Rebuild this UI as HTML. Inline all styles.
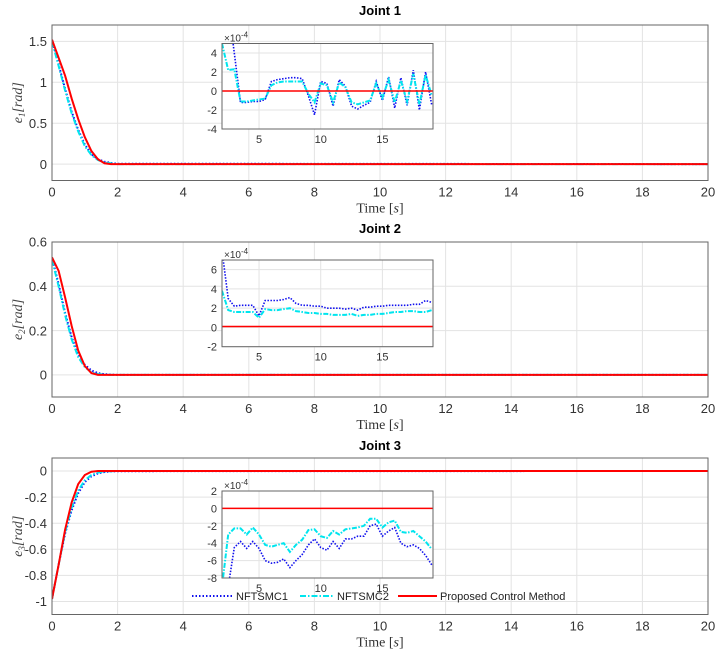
<!DOCTYPE html>
<html><head><meta charset="utf-8">
<style>
html,body{margin:0;padding:0;background:#fff;}
svg{display:block;font-family:"Liberation Sans",sans-serif;}
</style></head>
<body>
<svg id="chart" width="720" height="655" viewBox="0 0 720 655" xmlns="http://www.w3.org/2000/svg"></svg>
<script>
// ---- main panel data (time grid and errors) ----
const mainT = [0,0.2,0.4,0.6,0.8,1.0,1.2,1.4,1.6,1.8,2,20];
const j1Blue = [1.52,1.22,0.92,0.64,0.42,0.24,0.12,0.06,0.03,0.015,0.005,0];
const j1Cyan = [1.50,1.20,0.90,0.62,0.40,0.22,0.11,0.05,0.02,0.01,0,0];
const j1Red  = [1.52,1.30,1.08,0.80,0.55,0.33,0.16,0.06,0.01,0,0,0];
const j2Blue = [0.53,0.41,0.28,0.17,0.09,0.045,0.02,0.008,0.003,0.001,0,0];
const j2Cyan = [0.52,0.40,0.27,0.16,0.08,0.035,0.012,0.004,0.001,0,0,0];
const j2Red  = [0.53,0.47,0.35,0.22,0.11,0.04,0.008,0,0,0,0,0];
const j3Blue = [-0.98,-0.72,-0.48,-0.30,-0.17,-0.085,-0.04,-0.018,-0.007,-0.003,-0.001,0];
const j3Cyan = [-0.98,-0.72,-0.47,-0.28,-0.15,-0.07,-0.03,-0.012,-0.004,-0.001,0,0];
const j3Red  = [-0.98,-0.72,-0.45,-0.24,-0.10,-0.03,-0.005,0,0,0,0,0];
const mainXTicks = [0,2,4,6,8,10,12,14,16,18,20];
const j1YTicks = [0,0.5,1,1.5];
const j2YTicks = [0,0.2,0.4,0.6];
const j3YTicks = [-1,-0.8,-0.6,-0.4,-0.2,0];
// ---- inset data (units of 1e-4) ----
const insetT = [2,2.5,3,3.5,4,4.5,5,5.5,6,6.5,7,7.5,8,8.5,9,9.5,10,10.5,11,11.5,12,12.5,13,13.5,14,14.5,15,15.5,16,16.5,17,17.5,18,18.5,19];
const in1Blue = [9,9,4,-1.2,-1.2,-1.1,-1.1,-0.9,1.0,1.2,1.3,1.4,1.4,1.3,-0.5,-2.5,1.0,0.8,-1.6,1.2,0.5,-1.6,-1.9,-1.5,-1.2,1.0,-1.0,1.5,-1.8,1.4,-1.5,2.2,-2.0,2.0,-1.5];
const in1Cyan = [5,2.2,2.3,-1.1,-1.1,-1.0,-0.9,-0.8,0.6,0.9,1.0,1.0,1.0,1.0,-0.3,-1.2,0.8,0.6,-1.2,0.9,0.4,-1.2,-1.4,-1.2,-1.0,0.8,-0.7,1.2,-1.2,1.1,-1.1,1.8,-1.4,1.7,-0.5];
const in2Blue = [8,3,2.2,2.3,2.3,2.3,1.2,2.8,2.8,2.8,2.9,3.1,2.5,2.3,2.3,2.2,2.2,2.0,2.0,2.0,1.9,2.0,1.8,2.1,2.1,2.2,2.2,2.3,2.3,2.3,2.3,2.4,2.4,2.8,2.6];
const in2Cyan = [3.8,1.8,1.6,1.6,1.6,1.6,1.0,1.9,1.8,1.8,1.9,2.0,1.7,1.6,1.5,1.5,1.4,1.4,1.3,1.3,1.3,1.4,1.2,1.3,1.3,1.4,1.4,1.5,1.6,1.6,1.7,1.7,1.6,1.6,1.8];
const in3Blue = [-9,-9,-4.5,-3.8,-4.6,-3.8,-4.6,-6.0,-6.3,-6.2,-5.8,-6.8,-6.0,-5.3,-4.2,-3.5,-4.5,-4.8,-3.8,-4.6,-3.5,-3.5,-3.2,-3.2,-2.0,-1.8,-3.2,-2.6,-2.2,-4.0,-4.4,-4.2,-4.6,-5.4,-6.5];
const in3Cyan = [-9,-3,-2.3,-2.3,-3.0,-2.2,-3.0,-4.2,-4.4,-4.2,-4.0,-5.0,-4.2,-3.6,-2.5,-2.4,-3.2,-3.4,-2.6,-3.0,-2.4,-2.3,-2.2,-2.0,-1.2,-1.2,-2.2,-1.6,-1.4,-2.7,-2.8,-2.6,-3.2,-3.8,-4.7];
const in1Red = 0, in2Red = 0.1, in3Red = 0;
const insetXTicks = [5,10,15];
const in1YTicks = [-4,-2,0,2,4];
const in2YTicks = [-2,0,2,4,6];
const in3YTicks = [-8,-6,-4,-2,0,2];

const NS = "http://www.w3.org/2000/svg";
const svg = document.getElementById('chart');
let clipId = 0;
function el(tag, attrs, parent){
  const e = document.createElementNS(NS, tag);
  for (const k in attrs) e.setAttribute(k, attrs[k]);
  (parent||svg).appendChild(e);
  return e;
}
function scale(d0,d1,p0,p1){ return v => p0 + (v-d0)/(d1-d0)*(p1-p0); }
function pathD(xs, ys, sx, sy){
  return xs.map((t,i)=>(i?'L':'M')+sx(t).toFixed(1)+','+sy(ys[i]).toFixed(1)).join(' ');
}
const BLUE='#1010ee', CYAN='#00e5ee', RED='#ff0000', AX='#666', GRID='#e3e3e3';

function drawAxes(o){
  const g = el('g', {});
  
  
  const sx = scale(o.xd[0],o.xd[1],o.x0,o.x1), sy = scale(o.yd[0],o.yd[1],o.y1,o.y0);
  el('rect',{x:o.x0,y:o.y0,width:o.x1-o.x0,height:o.y1-o.y0,fill:'#fff'},g);
  o.xt.forEach(v=>{
    const l = el('line',{x1:sx(v),x2:sx(v),y1:o.y0,y2:o.y1,stroke:GRID,'stroke-width':1},g);
    
    
    const t = el('text',{x:sx(v),y:o.y1+o.fs+3,'font-size':o.fs,'text-anchor':'middle',fill:'#333'},g);
    
    
    t.textContent = v;
  });
  o.yt.forEach(v=>{
    const l = el('line',{x1:o.x0,x2:o.x1,y1:sy(v),y2:sy(v),stroke:GRID,'stroke-width':1},g);
    
    
    const t = el('text',{x:o.x0-5,y:sy(v)+o.fs*0.36,'font-size':o.fs,'text-anchor':'end',fill:'#333'},g);
    
    
    t.textContent = v;
  });
  const cid = 'clip'+(clipId++);
  const cp = el('clipPath',{id:cid},g);
  el('rect',{x:o.x0,y:o.y0,width:o.x1-o.x0,height:o.y1-o.y0},cp);
  const pg = el('g',{'clip-path':'url(#'+cid+')'},g);
  o.series.forEach(s=>{
    const p = el('path',{d:pathD(s.x,s.y,sx,sy),fill:'none',stroke:s.c,'stroke-width':s.w,'stroke-dasharray':s.dash||'none'},pg);
    
    
  });
  el('rect',{x:o.x0,y:o.y0,width:o.x1-o.x0,height:o.y1-o.y0,fill:'none',stroke:AX,'stroke-width':1},g);
  return {g,sx,sy};
}
function mainSeries(b,c,r){
  return [
    {x:mainT,y:b,c:BLUE,w:2,dash:'1.5,2',name:'nftsmc1-line'},
    {x:mainT,y:c,c:CYAN,w:2,dash:'6,2,1.5,2',name:'nftsmc2-line'},
    {x:mainT,y:r,c:RED,w:2,name:'proposed-method-line'}
  ];
}
function insetSeries(b,c,r){
  return [
    {x:insetT,y:b,c:BLUE,w:1.6,dash:'1.5,1.5',name:'inset-nftsmc1-line'},
    {x:insetT,y:c,c:CYAN,w:2,dash:'5,1.5,1.5,1.5',name:'inset-nftsmc2-line'},
    {x:[2,19.1],y:[r,r],c:RED,w:1.5,name:'inset-proposed-line'}
  ];
}
function label(txt,x,y,opts,name){
  const t = el('text',Object.assign({x:x,y:y},opts));
  
  
  t.innerHTML = txt;
  return t;
}
const X0=52, X1=708;
const panels = [
  {title:'Joint 1',ty:15,y0:25,y1:180.5,yd:[-0.2,1.7],yt:j1YTicks,s:mainSeries(j1Blue,j1Cyan,j1Red),sub:'1',
   inset:{y0:43.5,y1:129,yd:[-4,5],yt:in1YTicks,s:insetSeries(in1Blue,in1Cyan,in1Red)}},
  {title:'Joint 2',ty:233,y0:242,y1:397,yd:[-0.1,0.6],yt:j2YTicks,s:mainSeries(j2Blue,j2Cyan,j2Red),sub:'2',
   inset:{y0:260,y1:346.7,yd:[-2,7],yt:in2YTicks,s:insetSeries(in2Blue,in2Cyan,in2Red)}},
  {title:'Joint 3',ty:450,y0:458,y1:614.5,yd:[-1.1,0.1],yt:j3YTicks,s:mainSeries(j3Blue,j3Cyan,j3Red),sub:'3',
   inset:{y0:491,y1:578,yd:[-8,2],yt:in3YTicks,s:insetSeries(in3Blue,in3Cyan,in3Red)}}
];
panels.forEach((p,i)=>{
  drawAxes({name:'joint'+(i+1)+'-axes',x0:X0,x1:X1,y0:p.y0,y1:p.y1,xd:[0,20],yd:p.yd,xt:mainXTicks,yt:p.yt,fs:13,series:p.s});
  label(p.title,380,p.ty,{'font-size':13,'font-weight':'bold','text-anchor':'middle',fill:'#000'},'joint'+(i+1)+'-title');
  label('Time [<tspan font-style="italic">s</tspan>]',380,p.y1+32,{'font-size':14,'text-anchor':'middle',fill:'#333','font-family':'"Liberation Serif",serif'},'x-axis-title');
  const cy=(p.y0+p.y1)/2;
  label('e<tspan font-size="9" dy="3">'+p.sub+'</tspan><tspan dy="-3">[rad]</tspan>',0,0,{'font-size':14,'font-style':'italic','text-anchor':'middle',fill:'#444','font-family':'"Liberation Serif",serif',transform:'translate(22,'+cy+') rotate(-90)'},'y-axis-title');
  const ins=p.inset;
  drawAxes({name:'joint'+(i+1)+'-inset',x0:222,x1:433,y0:ins.y0,y1:ins.y1,xd:[2,19.1],yd:ins.yd,xt:insetXTicks,yt:ins.yt,fs:11,series:ins.s});
  label('×10<tspan font-size="8" dy="-4">-4</tspan>',224,ins.y0-2,{'font-size':10,fill:'#333'},'inset-exponent-label');
});
// legend
const lg = el('g',{});


const legend=[
  {x:192,x2:233,c:BLUE,dash:'1.5,2',w:2,t:'NFTSMC1'},
  {x:300,x2:334,c:CYAN,dash:'6,2,1.5,2',w:2,t:'NFTSMC2'},
  {x:398,x2:437,c:RED,dash:'none',w:2,t:'Proposed Control Method'}
];
legend.forEach(e=>{
  const l=el('line',{x1:e.x,x2:e.x2,y1:596,y2:596,stroke:e.c,'stroke-width':e.w,'stroke-dasharray':e.dash},lg);
  
  
  const t=el('text',{x:e.x2+3,y:600,'font-size':11,fill:'#222'},lg);
  
  
  t.textContent=e.t;
});
</script>
</body></html>
